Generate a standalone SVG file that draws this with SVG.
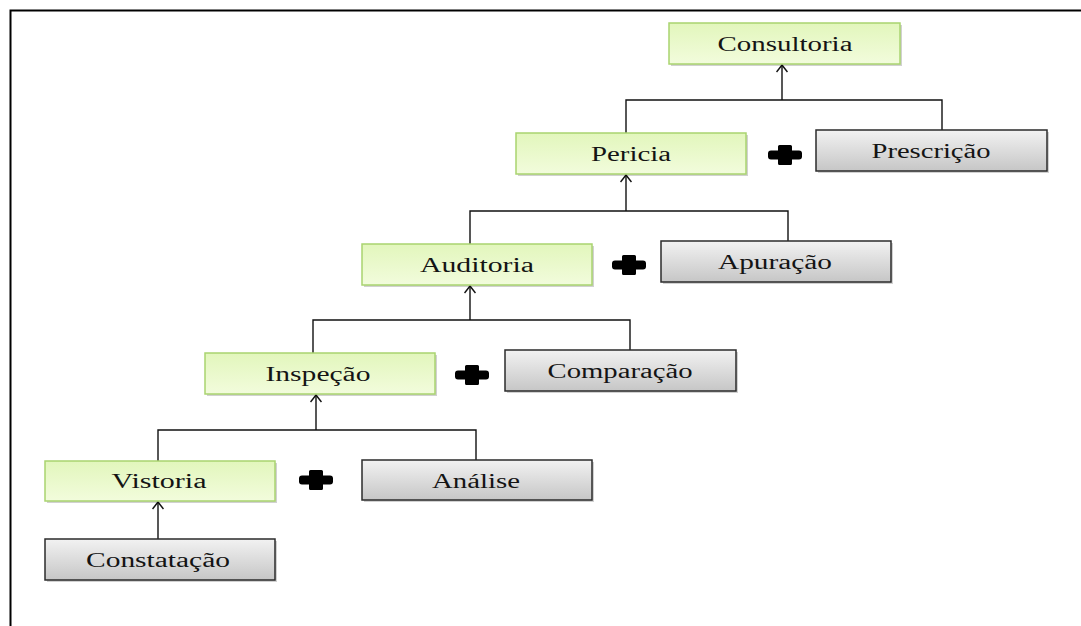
<svg xmlns="http://www.w3.org/2000/svg" width="1081" height="626" viewBox="0 0 1081 626">
<defs>
<linearGradient id="gGreen" x1="0" y1="0" x2="0" y2="1">
<stop offset="0" stop-color="#e2f6bc"/>
<stop offset="1" stop-color="#f2fcdc"/>
</linearGradient>
<linearGradient id="gGray" x1="0" y1="0" x2="0" y2="1">
<stop offset="0" stop-color="#f2f2f2"/>
<stop offset="1" stop-color="#c6c6c6"/>
</linearGradient>
<marker id="arr" viewBox="0 0 10 12" refX="9" refY="6" markerWidth="10" markerHeight="12" markerUnits="userSpaceOnUse" orient="auto">
<path d="M2,0.5 L9,6 L2,11.5" fill="none" stroke="#111" stroke-width="1.5"/>
</marker>
<path id="plus" d="M-5.5,-10 h11 a1.5,1.5 0 0 1 1.5,1.5 v4 h7 a3,3 0 0 1 3,3 v3 a3,3 0 0 1 -3,3 h-7 v4 a1.5,1.5 0 0 1 -1.5,1.5 h-11 a1.5,1.5 0 0 1 -1.5,-1.5 v-4 h-7 a3,3 0 0 1 -3,-3 v-3 a3,3 0 0 1 3,-3 h7 v-4 a1.5,1.5 0 0 1 1.5,-1.5 z"/>
</defs>
<style>
.g{fill:url(#gGreen);stroke:#a9d46f;stroke-width:1.5}
.y{fill:url(#gGray);stroke:#2b2b2b;stroke-width:1.5}
.sh{fill:#000;opacity:0.18}
.t{font-family:"Liberation Serif","Times New Roman",serif;font-size:20px;fill:#141414;text-anchor:middle}
.c{fill:none;stroke:#111;stroke-width:1.4}
.p{fill:#000}
</style>
<rect width="1081" height="626" fill="#fff"/>
<path d="M10.5,626 V10.5 H1081" fill="none" stroke="#000" stroke-width="2"/>

<g id="connectors">
<path class="c" d="M626,133 V100 H942 V130"/>
<path class="c" d="M782,100 V65" marker-end="url(#arr)"/>
<path class="c" d="M470,244 V211 H788 V241"/>
<path class="c" d="M626,211 V175" marker-end="url(#arr)"/>
<path class="c" d="M313,353 V320 H630 V350"/>
<path class="c" d="M470,320 V286" marker-end="url(#arr)"/>
<path class="c" d="M158,461 V430 H476 V460"/>
<path class="c" d="M316,430 V395" marker-end="url(#arr)"/>
<path class="c" d="M158,539 V502" marker-end="url(#arr)"/>
</g>

<g id="consultoria">
<rect class="sh" x="671" y="25" width="231" height="41"/>
<rect class="g" x="669" y="23" width="231" height="41"/>
<text class="t" x="785" y="51" textLength="135" lengthAdjust="spacingAndGlyphs">Consultoria</text>
</g>
<g id="pericia">
<rect class="sh" x="518" y="135" width="230" height="41"/>
<rect class="g" x="516" y="133" width="230" height="41"/>
<text class="t" x="631" y="161" textLength="80" lengthAdjust="spacingAndGlyphs">Pericia</text>
</g>
<g id="prescricao">
<rect class="sh" x="818" y="132" width="231" height="41"/>
<rect class="y" x="816" y="130" width="231" height="41"/>
<text class="t" x="931" y="158" textLength="119" lengthAdjust="spacingAndGlyphs">Prescrição</text>
</g>
<g id="plus1"><use href="#plus" class="p" x="785" y="155"/></g>

<g id="auditoria">
<rect class="sh" x="364" y="246" width="230" height="41"/>
<rect class="g" x="362" y="244" width="230" height="41"/>
<text class="t" x="477" y="272" textLength="114" lengthAdjust="spacingAndGlyphs">Auditoria</text>
</g>
<g id="apuracao">
<rect class="sh" x="663" y="243" width="230" height="41"/>
<rect class="y" x="661" y="241" width="230" height="41"/>
<text class="t" x="775" y="269" textLength="114" lengthAdjust="spacingAndGlyphs">Apuração</text>
</g>
<g id="plus2"><use href="#plus" class="p" x="629" y="265"/></g>

<g id="inspecao">
<rect class="sh" x="207" y="355" width="230" height="41"/>
<rect class="g" x="205" y="353" width="230" height="41"/>
<text class="t" x="318" y="381" textLength="105" lengthAdjust="spacingAndGlyphs">Inspeção</text>
</g>
<g id="comparacao">
<rect class="sh" x="507" y="352" width="231" height="41"/>
<rect class="y" x="505" y="350" width="231" height="41"/>
<text class="t" x="620" y="378" textLength="145" lengthAdjust="spacingAndGlyphs">Comparação</text>
</g>
<g id="plus3"><use href="#plus" class="p" x="472" y="375"/></g>

<g id="vistoria">
<rect class="sh" x="47" y="463" width="230" height="40"/>
<rect class="g" x="45" y="461" width="230" height="40"/>
<text class="t" x="159" y="488" textLength="95" lengthAdjust="spacingAndGlyphs">Vistoria</text>
</g>
<g id="analise">
<rect class="sh" x="364" y="462" width="230" height="40"/>
<rect class="y" x="362" y="460" width="230" height="40"/>
<text class="t" x="476" y="488" textLength="88" lengthAdjust="spacingAndGlyphs">Análise</text>
</g>
<g id="plus4"><use href="#plus" class="p" x="316" y="480"/></g>

<g id="constatacao">
<rect class="sh" x="47" y="541" width="230" height="41"/>
<rect class="y" x="45" y="539" width="230" height="41"/>
<text class="t" x="158" y="567" textLength="144" lengthAdjust="spacingAndGlyphs">Constatação</text>
</g>
</svg>
